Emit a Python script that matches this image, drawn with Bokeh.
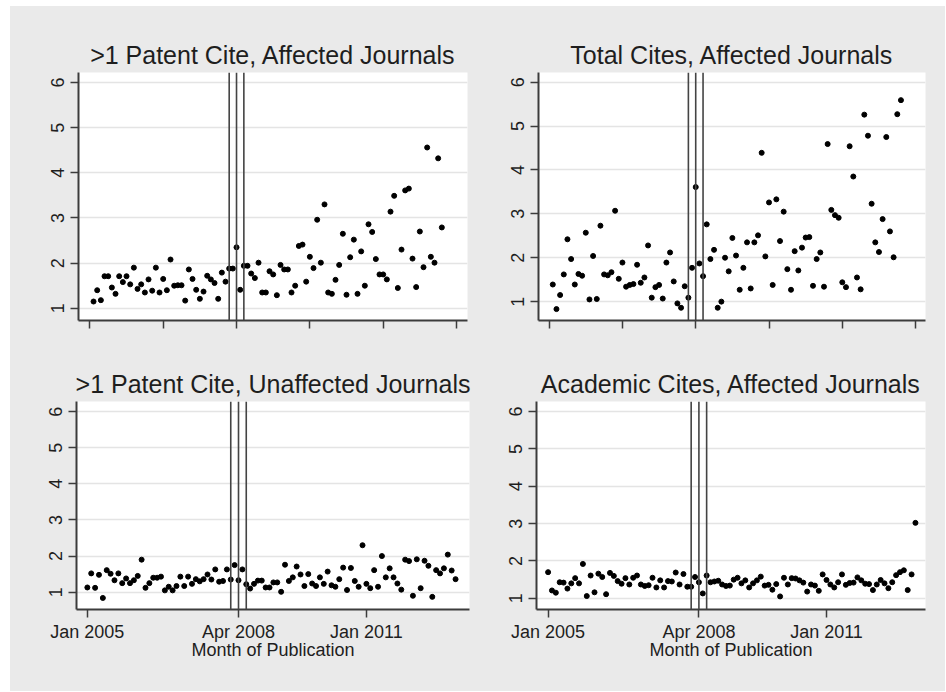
from bokeh.plotting import figure
from bokeh.layouts import column, row
from bokeh.models import Span, FixedTicker, Range1d
from bokeh.embed import file_html
from bokeh.resources import INLINE

# ---------------- data ----------------
# Stata monthly codes (540 = Jan 2005)
months_top = list(range(541, 637))
months_bottom = list(range(540, 636))

events_top = [578, 580, 582]
events_bottom = [577, 579, 581]

ticks_top = [540, 560, 580, 600, 620, 640]
ticks_bottom = [540, 579, 612]
tick_labels_bottom = ["Jan 2005", "Apr 2008", "Jan 2011"]

patent_affected = [
    1.15, 1.40, 1.18, 1.71, 1.71, 1.46, 1.32, 1.71, 1.58, 1.71,
    1.53, 1.90, 1.43, 1.53, 1.35, 1.64, 1.39, 1.90, 1.35, 1.65,
    1.40, 2.08, 1.50, 1.51, 1.51, 1.17, 1.86, 1.65, 1.41, 1.21,
    1.37, 1.72, 1.64, 1.56, 1.21, 1.79, 1.59, 1.88, 1.88, 2.35,
    1.41, 1.94, 1.94, 1.77, 1.67, 2.01, 1.35, 1.35, 1.82, 1.75,
    1.29, 1.96, 1.86, 1.86, 1.35, 1.50, 2.38, 2.41, 1.59, 2.14,
    1.89, 2.96, 2.01, 3.30, 1.35, 1.32, 1.63, 1.96, 2.65, 1.30,
    2.13, 2.52, 1.32, 2.26, 1.50, 2.86, 2.69, 2.09, 1.75, 1.75,
    1.64, 3.14, 3.49, 1.45, 2.30, 3.61, 3.65, 2.10, 1.47, 2.70,
    1.91, 4.56, 2.14, 2.01, 4.32, 2.79,
]

total_affected = [
    1.39, 0.83, 1.15, 1.62, 2.42, 1.97, 1.39, 1.63, 1.59, 2.57,
    1.05, 2.04, 1.06, 2.73, 1.62, 1.60, 1.67, 3.07, 1.52, 1.89,
    1.34, 1.38, 1.40, 1.84, 1.43, 1.55, 2.28, 1.09, 1.33, 1.38,
    1.07, 1.89, 2.12, 1.46, 0.96, 0.86, 1.35, 1.09, 1.77, 3.61,
    1.87, 1.58, 2.76, 1.97, 2.18, 0.86, 1.00, 2.00, 1.69, 2.45,
    2.05, 1.27, 1.77, 2.35, 1.30, 2.35, 2.51, 4.39, 2.03, 3.26,
    1.38, 3.33, 2.38, 3.05, 1.74, 1.27, 2.15, 1.71, 2.23, 2.46,
    2.47, 1.36, 1.97, 2.12, 1.34, 4.59, 3.09, 2.97, 2.91, 1.44,
    1.33, 4.54, 3.85, 1.55, 1.28, 5.26, 4.78, 3.23, 2.35, 2.13,
    2.88, 4.75, 2.60, 2.01, 5.27, 5.59,
]

patent_unaffected = [
    1.13, 1.52, 1.12, 1.48, 0.84, 1.61, 1.51, 1.33, 1.52, 1.25,
    1.38, 1.25, 1.33, 1.45, 1.90, 1.12, 1.25, 1.40, 1.40, 1.43,
    1.05, 1.15, 1.05, 1.17, 1.43, 1.17, 1.43, 1.23, 1.36, 1.30,
    1.36, 1.49, 1.35, 1.63, 1.29, 1.31, 1.63, 1.35, 1.75, 1.33,
    1.63, 1.22, 1.10, 1.23, 1.32, 1.32, 1.13, 1.13, 1.27, 1.27,
    1.01, 1.76, 1.31, 1.41, 1.71, 1.49, 1.17, 1.50, 1.24, 1.17,
    1.41, 1.23, 1.57, 1.19, 1.15, 1.36, 1.68, 1.06, 1.67, 1.31,
    1.15, 2.30, 1.23, 1.11, 1.61, 1.15, 2.00, 1.41, 1.66, 1.41,
    1.24, 1.07, 1.90, 1.86, 0.90, 1.91, 1.11, 1.87, 1.73, 0.87,
    1.61, 1.52, 1.66, 2.04, 1.60, 1.36,
]

academic_affected = [
    1.70, 1.21, 1.15, 1.43, 1.42, 1.26, 1.40, 1.54, 1.40, 1.92,
    1.06, 1.61, 1.16, 1.66, 1.57, 1.11, 1.68, 1.60, 1.46, 1.39,
    1.54, 1.37, 1.55, 1.61, 1.37, 1.33, 1.35, 1.55, 1.29, 1.48,
    1.29, 1.46, 1.45, 1.69, 1.37, 1.65, 1.31, 1.31, 1.57, 1.43,
    1.13, 1.61, 1.43, 1.45, 1.47, 1.37, 1.33, 1.34, 1.50, 1.55,
    1.40, 1.48, 1.29, 1.40, 1.48, 1.58, 1.34, 1.36, 1.23, 1.38,
    1.05, 1.55, 1.37, 1.54, 1.53, 1.48, 1.42, 1.18, 1.37, 1.34,
    1.20, 1.64, 1.49, 1.37, 1.29, 1.43, 1.64, 1.36, 1.41, 1.42,
    1.56, 1.48, 1.39, 1.38, 1.22, 1.37, 1.49, 1.40, 1.27, 1.43,
    1.62, 1.70, 1.75, 1.22, 1.64, 3.02,
]

# ---------------- styling ----------------
FONT = "Liberation Sans"
BG = "#eaeaea"
TXT = "#1e1e1e"
AX = "#3c3c3c"


def make_panel(title, x, y, x_rng, y_rng, ticks, labels, events, w, h, borders, xlabel):
    left, right, top, bottom = borders
    p = figure(width=w, height=h, output_backend="svg", toolbar_location=None,
               x_range=Range1d(*x_rng), y_range=Range1d(*y_rng),
               min_border_left=left, min_border_right=right,
               min_border_top=top, min_border_bottom=bottom)
    p.title.text = title
    p.title.align = "center"
    p.title.text_font = FONT
    p.title.text_font_size = "25px"
    p.title.text_font_style = "normal"
    p.title.text_color = TXT
    p.title.standoff = 7
    p.background_fill_color = "white"
    p.border_fill_color = BG
    p.outline_line_color = None

    p.xgrid.visible = False
    p.ygrid.grid_line_color = "#e4e4e4"
    p.ygrid.grid_line_width = 1.5

    for ax in (p.xaxis[0], p.yaxis[0]):
        ax.axis_line_color = AX
        ax.axis_line_width = 2
        ax.major_tick_line_color = AX
        ax.major_tick_line_width = 1.5
        ax.major_tick_out = 8
        ax.major_tick_in = 0
        ax.minor_tick_line_color = None
        ax.major_label_text_font = FONT
        ax.major_label_text_font_size = "18px"
        ax.major_label_text_color = TXT

    p.yaxis.ticker = FixedTicker(ticks=[1, 2, 3, 4, 5, 6])
    p.yaxis.major_label_orientation = "vertical"
    p.yaxis.major_label_standoff = 6

    p.xaxis.ticker = FixedTicker(ticks=ticks)
    if labels is None:
        p.xaxis.major_label_overrides = {t: "" for t in ticks}
        p.xaxis.major_label_standoff = 0
    else:
        p.xaxis.major_label_overrides = {t: l for t, l in zip(ticks, labels)}
        p.xaxis.major_label_standoff = 4
        p.xaxis.axis_label = xlabel
        p.xaxis.axis_label_text_font = FONT
        p.xaxis.axis_label_text_font_size = "18px"
        p.xaxis.axis_label_text_font_style = "normal"
        p.xaxis.axis_label_text_color = TXT
        p.xaxis.axis_label_standoff = -5

    for e in events:
        p.add_layout(Span(location=e, dimension="height",
                          line_color="#444444", line_width=1.6))

    p.scatter(x, y, size=5, color="black", line_color="black")
    return p


p1 = make_panel(">1 Patent Cite, Affected Journals", months_top, patent_affected,
                (536.9, 643.0), (0.73, 6.22), ticks_top, None, events_top,
                468, 334, (68, 11, 66, 20), None)
p2 = make_panel("Total Cites, Affected Journals", months_top, total_affected,
                (537.1, 642.7), (0.57, 6.22), ticks_top, None, events_top,
                467, 334, (60, 20, 66, 20), None)
p3 = make_panel(">1 Patent Cite, Unaffected Journals", months_bottom, patent_unaffected,
                (537.2, 638.6), (0.52, 6.28), ticks_bottom, tick_labels_bottom, events_bottom,
                468, 351, (66, 9, 61, 82), "Month of Publication")
p4 = make_panel("Academic Cites, Affected Journals", months_bottom, academic_affected,
                (537.0, 637.6), (0.70, 6.27), ticks_bottom, tick_labels_bottom, events_bottom,
                467, 351, (58, 20, 61, 82), "Month of Publication")

top_row = row(p1, p2, spacing=0, styles={"background-color": BG})
bottom_row = row(p3, p4, spacing=0, styles={"background-color": BG})
layout = column(top_row, bottom_row, spacing=0, margin=(6, 0, 0, 10),
                styles={"background-color": BG})

open("out.html", "w").write(file_html(layout, INLINE))
